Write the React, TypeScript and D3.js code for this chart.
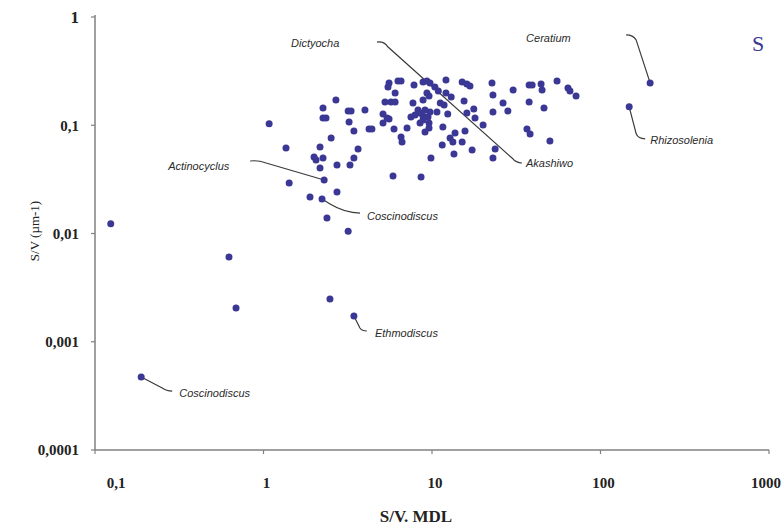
import React from "react";
import * as d3 from "d3";

// S/V MDL (x) and S/V (y, µm-1) for each taxon
const svMDL = [
  0.124, 0.624, 0.687, 0.188, 2.48, 3.44, 197, 148, 1.08, 1.36, 1.42,
  2.69, 2.255, 3.18, 3.31, 4.0, 2.255, 2.35, 3.22, 3.44, 4.23, 2.52, 2.165, 3.64,
  1.995, 2.05, 2.255, 3.44, 3.26, 2.73, 2.165, 2.29, 2.73, 1.888, 2.225, 2.38, 3.18,
  5.56, 5.48, 6.28, 6.55, 7.82, 8.85, 9.33, 9.73, 10.4, 10.9, 12.1, 15.1, 16.1, 16.8,
  6.04, 9.33, 9.6, 12.1, 13.0, 5.26, 5.71, 6.04, 7.71, 8.85, 11.2, 11.8, 15.5,
  10.7, 8.26, 9.09, 9.73, 7.5, 7.93, 8.49, 8.85, 9.47, 5.12, 5.41, 5.56, 12.4, 16.1, 17.7,
  5.12, 5.95, 7.11, 8.49, 8.85, 9.6, 9.09, 9.6, 11.6, 13.7, 15.7, 6.55, 6.64, 12.8, 13.3,
  15.1, 11.5, 17.3, 13.5, 9.86, 4.4, 5.87, 8.61,
  22.7, 23.0, 30.3, 37.7, 39.3, 44.4, 45.0, 55.2, 64.1, 65.9, 71.6, 26.4, 28.2, 37.7,
  23.0, 46.2, 18.0, 20.1, 36.6, 38.2, 50.1, 23.7, 23.0,
];
const svValues = [
  0.0123, 0.00607, 0.00205, 0.000472, 0.00248, 0.00173, 0.246, 0.148, 0.103, 0.0616, 0.0293,
  0.171, 0.1443, 0.1355, 0.1355, 0.1384, 0.1167, 0.1167, 0.1072, 0.0885, 0.0923, 0.0762, 0.063, 0.0604,
  0.0509, 0.0478, 0.0498, 0.0498, 0.043, 0.043, 0.0403, 0.0312, 0.0242, 0.0217, 0.0208, 0.0139, 0.0105,
  0.2456, 0.2256, 0.2564, 0.2564, 0.2355, 0.251, 0.2564, 0.2456, 0.2256, 0.2072, 0.262, 0.251, 0.2405, 0.2306,
  0.1986, 0.1986, 0.1862, 0.1986, 0.1823, 0.164, 0.164, 0.164, 0.1606, 0.1711, 0.1606, 0.1539, 0.1675,
  0.1326, 0.1384, 0.1384, 0.1326, 0.1192, 0.1244, 0.1298, 0.1218, 0.1192, 0.1271, 0.1167, 0.1142, 0.1271, 0.1298, 0.1413,
  0.1049, 0.0923, 0.0943, 0.1049, 0.1118, 0.1049, 0.0866, 0.0943, 0.0963, 0.0848, 0.0885, 0.0779, 0.07, 0.0762, 0.07,
  0.07, 0.0657, 0.0591, 0.0542, 0.0498, 0.0923, 0.034, 0.0333,
  0.2456, 0.1903, 0.2118, 0.2355, 0.2355, 0.2405, 0.2118, 0.2564, 0.2208, 0.2072, 0.1862, 0.1606, 0.1355, 0.164,
  0.1326, 0.1443, 0.1167, 0.1005, 0.0923, 0.083, 0.0715, 0.0604, 0.0498,
];

const xTicks = [0.1, 1, 10, 100, 1000];
const xTickLabels = ["0,1", "1", "10", "100", "1000"];
const yTicks = [1, 0.1, 0.01, 0.001, 0.0001];
const yTickLabels = ["1", "0,1", "0,01", "0,001", "0,0001"];

// annotations: anchor (data), label text
const annoNames = ["Ceratium", "Rhizosolenia", "Actinocyclus", "Coscinodiscus", "Ethmodiscus", "Coscinodiscus", "Dictyocha", "Akashiwo"];
const annoX = [197, 148, 2.29, 2.225, 3.44, 0.188, 4.72, 34.2];
const annoY = [0.246, 0.148, 0.0312, 0.0208, 0.00173, 0.000472, 0.587, 0.0448];

const W = 781;
const H = 525;
const POINT = "#3b3794";
const AXIS = "#808080";
const SERIF = "'Liberation Serif', 'DejaVu Serif', serif";
const SANS = "'Liberation Sans', 'DejaVu Sans', sans-serif";

export default function App() {
  const x = d3.scaleLog().domain([0.1, 1000]).range([95, 769]);
  const y = d3.scaleLog().domain([0.0001, 1]).range([450, 17]);
  const pts = svMDL.map((v, i) => [x(v), y(svValues[i])]);

  const a = annoNames.map((n, i) => [x(annoX[i]), y(annoY[i])]);
  const [c0, c1, c2, c3, c4, c5, c6, c7] = a;
  const leaders = [
    `M${c0[0]},${c0[1]} L${c0[0] - 14},${c0[1] - 43} Q${c0[0] - 17},${c0[1] - 48} ${c0[0] - 24},${c0[1] - 48}`,
    `M${c1[0]},${c1[1]} L${c1[0] + 7},${c1[1] + 27} Q${c1[0] + 9},${c1[1] + 32} ${c1[0] + 16},${c1[1] + 32}`,
    `M${c2[0] - 74},${c2[1] - 19} Q${c2[0] - 66},${c2[1] - 20} ${c2[0] - 58},${c2[1] - 17} L${c2[0]},${c2[1]}`,
    `M${c3[0]},${c3[1]} L${c3[0] + 8},${c3[1] + 5} Q${c3[0] + 23},${c3[1] + 14} ${c3[0] + 38},${c3[1] + 14}`,
    `M${c4[0]},${c4[1]} L${c4[0] + 6},${c4[1] + 12} Q${c4[0] + 8},${c4[1] + 15} ${c4[0] + 13},${c4[1] + 15}`,
    `M${c5[0]},${c5[1]} L${c5[0] + 21},${c5[1] + 11} Q${c5[0] + 25},${c5[1] + 14} ${c5[0] + 31},${c5[1] + 14}`,
    `M${c6[0]},${c6[1]} Q${c6[0] + 7},${c6[1] - 1} ${c6[0] + 11},${c6[1] + 5} L${c7[0] - 10},${c7[1] - 5} Q${c7[0] - 6},${c7[1]} ${c7[0]},${c7[1]}`,
  ];
  const labelPos = [
    [c0[0] - 124, c0[1] - 41],
    [c1[0] + 21, c1[1] + 37],
    [c2[0] - 156, c2[1] - 10],
    [c3[0] + 45, c3[1] + 21],
    [c4[0] + 21, c4[1] + 21],
    [c5[0] + 38, c5[1] + 20],
    [c6[0] - 86, c6[1] + 5],
    [c7[0] + 4, c7[1] + 4],
  ];

  return (
    <svg width={W} height={H} style={{ position: "absolute", left: 0, top: 0, background: "#fff" }}>
      <line x1={95} x2={95} y1={y(1) - 2} y2={y(0.0001)} stroke={AXIS} strokeWidth={1.5} />
      <line x1={95} x2={x(1000)} y1={y(0.0001)} y2={y(0.0001)} stroke={AXIS} strokeWidth={1.5} />
      {yTicks.map((t, i) => (
        <g key={"yt" + i}>
          <line x1={91} x2={95} y1={y(t)} y2={y(t)} stroke={AXIS} strokeWidth={1.2} />
          <text
            x={79}
            y={y(t)}
            dy="0.35em"
            textAnchor="end"
            fontFamily={SERIF}
            fontWeight="bold"
            fontSize={i === 0 ? 17 : 15}
            fill="#222"
          >
            {yTickLabels[i]}
          </text>
        </g>
      ))}
      {xTicks.map((t, i) => (
        <g key={"xt" + i}>
          <line x1={x(t)} x2={x(t)} y1={450} y2={454} stroke={AXIS} strokeWidth={1.2} />
          <text
            x={x(t) + (i === 0 ? 21 : i === 4 ? -3 : 3)}
            y={488}
            textAnchor="middle"
            fontFamily={SERIF}
            fontWeight="bold"
            fontSize={15}
            fill="#222"
          >
            {xTickLabels[i]}
          </text>
        </g>
      ))}
      <text x={416} y={522} textAnchor="middle" fontFamily={SERIF} fontWeight="bold" fontSize={17} fill="#222">
        S/V. MDL
      </text>
      <text
        transform="translate(39,231) rotate(-90)"
        textAnchor="middle"
        fontFamily={SERIF}
        fontSize={13}
        fill="#222"
      >
        S/V (µm-1)
      </text>
      <text x={758} y={51} textAnchor="middle" fontFamily={SERIF} fontSize={22} fill={POINT}>
        S
      </text>

      {leaders.map((d, i) => (
        <path key={"l" + i} d={d} fill="none" stroke="#3a3a3a" strokeWidth={1.2} />
      ))}

      {pts.map((q, i) => (
        <circle key={"p" + i} cx={q[0]} cy={q[1]} r={3.5} fill={POINT} />
      ))}

      {annoNames.map((n, i) => (
        <text
          key={"a" + i}
          x={labelPos[i][0]}
          y={labelPos[i][1]}
          fontFamily={SANS}
          fontStyle="italic"
          fontSize={11}
          fill="#2a2a2a"
        >
          {n}
        </text>
      ))}
    </svg>
  );
}
